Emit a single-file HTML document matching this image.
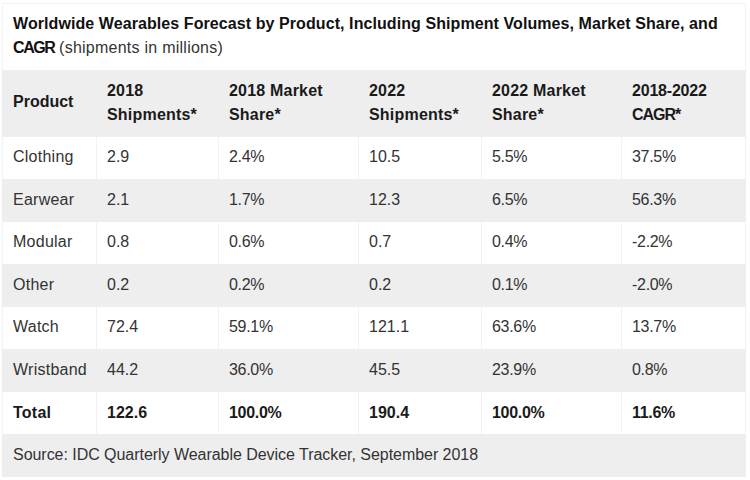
<!DOCTYPE html>
<html>
<head>
<meta charset="utf-8">
<style>
html, body { margin: 0; padding: 0; background: #fff; }
body { width: 750px; height: 480px; position: relative; overflow: hidden;
  font-family: "Liberation Sans", Arial, sans-serif; font-size: 16px; line-height: 24px; color: #333; }
.box { position: absolute; left: 2px; top: 3px; width: 742px; height: 473px; border: 1px solid #f3f3f3; border-bottom: 0; }
.bg { position: absolute; left: 2px; width: 744px; }
.g { background: #eee; }
.vl { position: absolute; top: 136px; width: 1px; height: 298px; background: #f2f2f2; }
.t { position: absolute; white-space: nowrap; }
.b { font-weight: bold; color: #1a1a1a; }
.title { position: absolute; left: 13px; top: 12px; letter-spacing: 0.08px; }
.title b { color: #111; }
.src { letter-spacing: -0.04px; }
.w { letter-spacing: 0.25px; }
.p { letter-spacing: -0.3px; }
.h { letter-spacing: 0.2px; }
.cagr { letter-spacing: -1.4px; }
.sub { letter-spacing: 0.25px; }
</style>
</head>
<body>
<div class="box"></div>
<div class="vl" style="left:96px"></div>
<div class="vl" style="left:218px"></div>
<div class="vl" style="left:358px"></div>
<div class="vl" style="left:481px"></div>
<div class="vl" style="left:621px"></div>
<div class="bg g" style="top:70px;height:66.5px"></div>
<div class="bg g" style="top:179px;height:42.5px"></div>
<div class="bg g" style="top:264px;height:42.5px"></div>
<div class="bg g" style="top:349px;height:42.5px"></div>
<div class="bg g" style="top:433.5px;height:43px"></div>
<div class="title"><b>Worldwide Wearables Forecast by Product, Including Shipment Volumes, Market Share, and<br><span class="cagr">CAGR</span></b> <span class="sub">(shipments in millions)</span></div>
<div class="t b" style="left:13px;top:90px">Product</div>
<div class="t b h" style="left:107px;top:79px">2018<br>Shipments*</div>
<div class="t b h" style="left:229px;top:79px">2018 Market<br>Share*</div>
<div class="t b h" style="left:369px;top:79px">2022<br>Shipments*</div>
<div class="t b h" style="left:492px;top:79px">2022 Market<br>Share*</div>
<div class="t b h" style="left:632px;top:79px"><span style="letter-spacing:-0.2px">2018-2022</span><br><span style="letter-spacing:-1px">CAGR*</span></div>
<div class="t w" style="left:13px;top:145px">Clothing</div>
<div class="t" style="left:107px;top:145px">2.9</div>
<div class="t p" style="left:229px;top:145px">2.4%</div>
<div class="t" style="left:369px;top:145px">10.5</div>
<div class="t p" style="left:492px;top:145px">5.5%</div>
<div class="t p" style="left:632px;top:145px">37.5%</div>
<div class="t w" style="left:13px;top:188px">Earwear</div>
<div class="t" style="left:107px;top:188px">2.1</div>
<div class="t p" style="left:229px;top:188px">1.7%</div>
<div class="t" style="left:369px;top:188px">12.3</div>
<div class="t p" style="left:492px;top:188px">6.5%</div>
<div class="t p" style="left:632px;top:188px">56.3%</div>
<div class="t w" style="left:13px;top:230px">Modular</div>
<div class="t" style="left:107px;top:230px">0.8</div>
<div class="t p" style="left:229px;top:230px">0.6%</div>
<div class="t" style="left:369px;top:230px">0.7</div>
<div class="t p" style="left:492px;top:230px">0.4%</div>
<div class="t p" style="left:632px;top:230px">-2.2%</div>
<div class="t w" style="left:13px;top:273px">Other</div>
<div class="t" style="left:107px;top:273px">0.2</div>
<div class="t p" style="left:229px;top:273px">0.2%</div>
<div class="t" style="left:369px;top:273px">0.2</div>
<div class="t p" style="left:492px;top:273px">0.1%</div>
<div class="t p" style="left:632px;top:273px">-2.0%</div>
<div class="t w" style="left:13px;top:315px">Watch</div>
<div class="t" style="left:107px;top:315px">72.4</div>
<div class="t p" style="left:229px;top:315px">59.1%</div>
<div class="t" style="left:369px;top:315px">121.1</div>
<div class="t p" style="left:492px;top:315px">63.6%</div>
<div class="t p" style="left:632px;top:315px">13.7%</div>
<div class="t w" style="left:13px;top:358px">Wristband</div>
<div class="t" style="left:107px;top:358px">44.2</div>
<div class="t p" style="left:229px;top:358px">36.0%</div>
<div class="t" style="left:369px;top:358px">45.5</div>
<div class="t p" style="left:492px;top:358px">23.9%</div>
<div class="t p" style="left:632px;top:358px">0.8%</div>
<div class="t b w" style="left:13px;top:400.5px">Total</div>
<div class="t b" style="left:107px;top:400.5px">122.6</div>
<div class="t b p" style="left:229px;top:400.5px">100.0%</div>
<div class="t b" style="left:369px;top:400.5px">190.4</div>
<div class="t b p" style="left:492px;top:400.5px">100.0%</div>
<div class="t b p" style="left:632px;top:400.5px">11.6%</div>
<div class="t src" style="left:13px;top:443px">Source: IDC Quarterly Wearable Device Tracker, September 2018</div>
</body>
</html>
